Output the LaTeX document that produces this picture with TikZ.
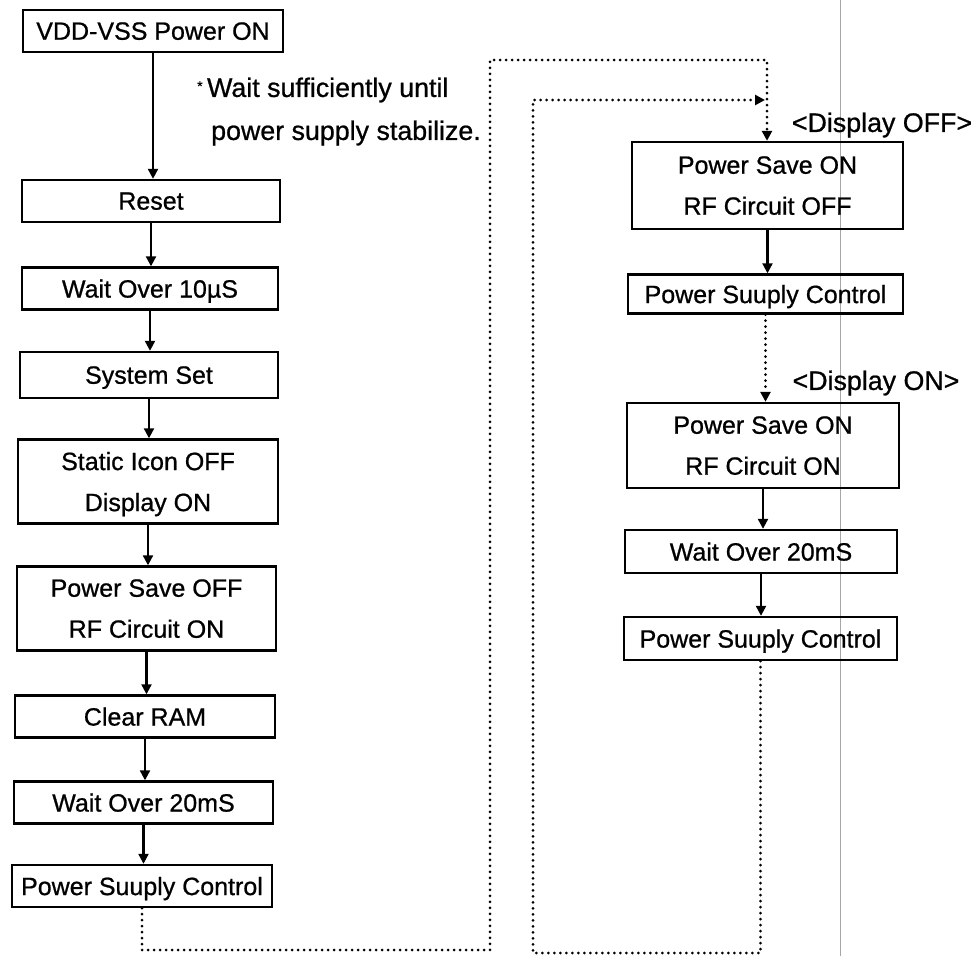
\documentclass[tikz,border=0pt]{standalone}
\usepackage{fontspec}
\setmainfont[FakeBold=0.8]{Liberation Sans}
\usetikzlibrary{arrows.meta}
\begin{document}
\begin{tikzpicture}[x=1pt,y=-1pt,
  box/.style={draw, line width=2.4pt, minimum height=42pt, inner sep=0pt, text depth=0pt,
    font=\fontsize{25}{41}\selectfont, align=center},
  tall/.style={minimum height=84pt},
  conn/.style={line width=2.2pt, -{Triangle[length=10pt,width=10pt]}},
  dots/.style={line width=3pt, line cap=round, dash pattern=on 0pt off 6pt,
    -{Triangle[length=10pt,width=10pt]}},
  lbl/.style={font=\fontsize{26.8}{30}\selectfont, inner sep=0pt}]
\useasboundingbox (0,0) rectangle (977,956);
\draw[black!35, line width=1pt] (840,0) -- (840,956);
% left column
\node[box, minimum width=260pt] (v) at (153,31) {VDD-VSS Power ON};
\node[box, minimum width=258pt] (reset) at (151,201) {Reset};
\node[box, minimum width=256pt] (w10) at (150,288.5) {Wait Over 10µS};
\node[box, minimum width=258pt, minimum height=46pt] (sys) at (149,375) {System Set};
\node[box, tall, minimum width=260pt] (stat) at (148,481.5) {Static Icon OFF\\Display ON};
\node[box, tall, minimum width=259pt] (psoff) at (146.5,608.5) {Power Save OFF\\RF Circuit ON};
\node[box, minimum width=260pt] (clr) at (145,716.5) {Clear RAM};
\node[box, minimum width=259pt] (w20) at (143.5,802.5) {Wait Over 20mS};
\node[box, minimum width=260pt] (psc) at (142,886) {Power Suuply Control};
% right column
\node[box, tall, minimum width=271pt, minimum height=87pt] (r1) at (767.5,185.5) {Power Save ON\\RF Circuit OFF};
\node[box, minimum width=275pt, minimum height=39pt] (r2) at (765.5,294) {Power Suuply Control};
\node[box, tall, minimum width=272pt, minimum height=85pt] (r3) at (763,445.5) {Power Save ON\\RF Circuit ON};
\node[box, minimum width=272pt, minimum height=43pt] (r4) at (761,551.5) {Wait Over 20mS};
\node[box, minimum width=273pt, minimum height=43pt] (r5) at (760.5,638.5) {Power Suuply Control};
% labels
\node[lbl, anchor=west] (note1) at (197,90) {\raisebox{6pt}{\fontsize{14}{14}\selectfont *}\,Wait sufficiently until};
\node[lbl, anchor=west] (note2) at (211,133) {power supply stabilize.};
\node[lbl] (doff) at (882,125) {<Display OFF>};
\node[lbl] (don) at (876,383) {<Display ON>};
% solid connectors
\draw[conn] (v.south) -- (v.south |- reset.north);
\draw[conn] (reset.south) -- (reset.south |- w10.north);
\draw[conn] (w10.south) -- (w10.south |- sys.north);
\draw[conn] (sys.south) -- (sys.south |- stat.north);
\draw[conn] (stat.south) -- (stat.south |- psoff.north);
\draw[conn] (psoff.south) -- (psoff.south |- clr.north);
\draw[conn] (clr.south) -- (clr.south |- w20.north);
\draw[conn] (w20.south) -- (w20.south |- psc.north);
\draw[conn] (r1.south) -- (r1.south |- r2.north);
\draw[conn] (r3.south) -- (r3.south |- r4.north);
\draw[conn] (r4.south) -- (r4.south |- r5.north);
% dotted connectors
\coordinate (a1) at (490,950);
\coordinate (a2) at (490,60);
\coordinate (a3) at (767,60);
\draw[dots] (psc.south) |- (a1) -- (a2) -- (a3) -- (a3 |- r1.north);
\draw[dots] (r2.south) -- (r2.south |- r3.north);
\coordinate (b1) at (533,953);
\coordinate (b2) at (533,100);
\coordinate (b3) at (765,100);
\draw[dots] (r5.south) |- (b1) -- (b2) -- (b3);
\end{tikzpicture}
\end{document}
